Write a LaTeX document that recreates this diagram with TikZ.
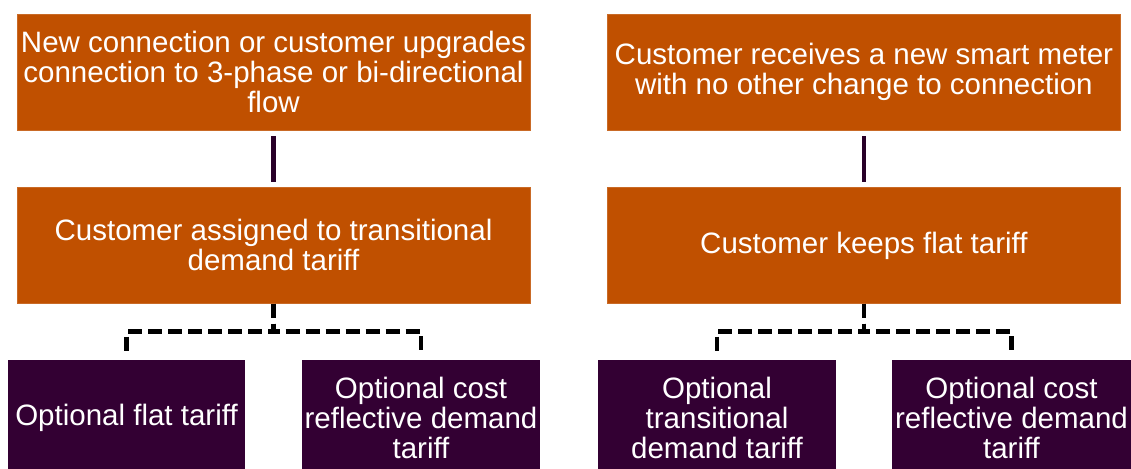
\documentclass[tikz,border=0pt]{standalone}
\usepackage{fontspec}
\setmainfont{Liberation Sans}
\usepackage{xcolor}
\usepackage{tikz}
\usetikzlibrary{positioning}

\definecolor{rust}{RGB}{192,80,0}
\definecolor{plum}{RGB}{51,0,51}

\begin{document}
\begin{tikzpicture}[
        x=1pt, y=-1pt,
        node distance=57pt and 77pt,
        stage/.style={rectangle, fill=rust, draw=rust!85!white, minimum width=513pt, minimum height=116pt, align=center, text=white, inner sep=0pt, font=\fontsize{29.5}{30}\selectfont},
        choice/.style={rectangle, fill=plum, minimum width=238pt, minimum height=116pt, align=center, text=white, inner sep=0pt, font=\fontsize{29.5}{30}\selectfont},
        link/.style={line width=4.5pt, draw=plum!80!black, shorten <=6pt, shorten >=5pt},
        optlink/.style={line width=4.5pt, draw=black, dash pattern=on 14pt off 6pt, shorten >=5pt}
    ]
        \useasboundingbox (0,0) rectangle (1131,468);

        % Left column: new or upgraded connection
        \node[stage] (newconn) at (273.5,72) {New connection or customer upgrades\\connection to 3-phase or bi-directional\\flow};
        \node[stage, below=of newconn] (assigned) {Customer assigned to transitional\\demand tariff};

        % Right column: meter swap only
        \node[stage, right=of newconn] (smart) {Customer receives a new smart meter\\with no other change to connection};
        \node[stage, below=of smart] (keeps) {Customer keeps flat tariff};

        % Bottom row: optional tariffs
        \node[choice, minimum width=237pt] (optflat) at (126.5,418) {Optional flat tariff};
        \node[choice] (optcostl) at (421,418) {Optional cost\\reflective demand\\tariff};
        \node[choice] (opttrans) at (717,418) {Optional\\transitional\\demand tariff};
        \node[choice, minimum width=239pt] (optcostr) at (1011.5,418) {Optional cost\\reflective demand\\tariff};

        % Solid links
        \draw[link] (newconn) -- (assigned);
        \draw[link] (smart) -- (keeps);

        % Dashed links to the options
        \draw[optlink] (assigned.south) -- ++(0,28) -| (optflat.north);
        \draw[optlink] (assigned.south) -- ++(0,28) -| (optcostl.north);
        \draw[optlink] (keeps.south) -- ++(0,28) -| (opttrans.north);
        \draw[optlink] (keeps.south) -- ++(0,28) -| (optcostr.north);

    \end{tikzpicture}
\end{document}
